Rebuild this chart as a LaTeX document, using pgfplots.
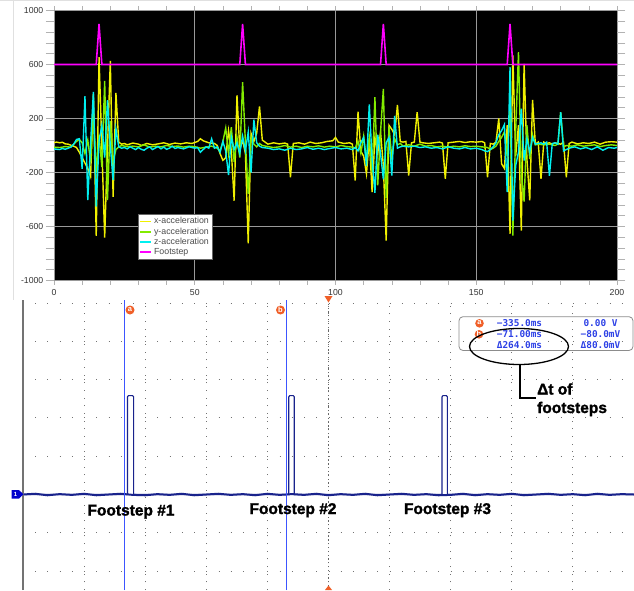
\documentclass[border=0pt]{standalone}
\usepackage{pgfplots}
\pgfplotsset{compat=1.18}
\usepackage{fontspec}
\setmainfont{Liberation Sans}
\newfontfamily\monofont{DejaVu Sans Mono}
\newfontfamily\heavyfont{Liberation Sans}[BoldFeatures={FakeBold=1.6}]
\definecolor{xacc}{RGB}{240,240,0}
\definecolor{yacc}{RGB}{130,235,0}
\definecolor{zacc}{RGB}{0,240,240}
\definecolor{foot}{RGB}{255,0,255}
\definecolor{scopetrace}{RGB}{25,35,140}
\definecolor{cursorblue}{RGB}{60,85,255}
\definecolor{readout}{RGB}{45,65,230}
\definecolor{markorange}{RGB}{240,95,40}
\begin{document}
\begin{tikzpicture}[x=1pt,y=1pt]
\useasboundingbox (0,0) rectangle (634,590);
\fill[white] (0,0) rectangle (634,590);
\begin{scope}
\clip (0,0) rectangle (634,590);
% top panel frame lines
\draw[black!12, line width=0.8pt] (13,590) -- (13,290);
\draw[black!12, line width=0.8pt] (0,589.6) -- (634,589.6);
\begin{axis}[
  at={(54pt,309.5pt)}, anchor=south west, scale only axis,
  width=563pt, height=270pt,
  xmin=0, xmax=200, ymin=-1000, ymax=1000,
  axis background/.style={fill=black},
  axis line style={draw=none},
  xtick={0,50,100,150,200}, ytick={-1000,-600,-200,200,600,1000},
  minor x tick num=4, minor y tick num=4,
  grid=major, major grid style={black!40!white, line width=0.8pt},
  tick align=outside,
  tick style={black!30, line width=0.6pt},
  xtick style={/pgfplots/major tick length=4pt,/pgfplots/minor tick length=4pt},
  ytick style={/pgfplots/major tick length=8pt,/pgfplots/minor tick length=8pt},
  /pgf/number format/.cd, 1000 sep={}, assume math mode=true, /pgfplots/.cd,
  ticklabel style={font=\fontsize{8.7}{10}\selectfont, text=black!80},
  yticklabel style={inner sep=1.2pt, xshift=-5pt},
  xticklabel style={inner sep=1.5pt, yshift=-3pt},
  legend style={at={(0.149,0.246)}, anchor=north west, fill=white, draw=black!60,
     font=\fontsize{8.8}{9}\selectfont, text=black!70, inner sep=1.2pt, row sep=-1.6pt,
     cells={anchor=west}},
  legend image code/.code={\draw[#1, line width=1.8pt] (0pt,0pt) -- (11pt,0pt);},
]
\addplot[xacc, line width=1.4pt] coordinates {
(0,22)(1,25)(2,20)(3,24)(4,12)(5,10)(6,2)(7,-5)(8,-15)(9,-50)(10,-90)(11,-130)(12,-170)(13,-230)(14,380)(15,-670)(16,655)(17,-10)(18,-682)(19,-20)(20,626)(21,-380)(22,389)(23,25)(24,10)(25,15)(26,5)(28,18)(30,10)(31,0)(33,15)(35,5)(37,12)(39,20)(41,8)(43,18)(45,12)(47,20)(49,15)(51,30)(52,50)(53,35)(55,20)(57,15)(58,0)(59,-60)(60,-110)(61,-90)(62,110)(63,-40)(64,-409)(65,372)(66,-30)(67,40)(68,-60)(69,-724)(70,90)(71,30)(72,90)(73,290)(74,40)(75,25)(76,10)(78,20)(80,12)(82,18)(83,10)(84,-235)(85,15)(87,20)(89,10)(91,25)(93,15)(95,20)(97,30)(99,35)(100,60)(101,25)(103,15)(105,20)(106,10)(107,-259)(108,250)(109,-40)(110,-80)(111,-210)(112,50)(113,-345)(114,60)(115,-60)(116,100)(117,-150)(118,-704)(119,150)(120,120)(121,80)(122,300)(123,30)(124,25)(125,30)(126,-222)(127,20)(128,25)(129,247)(130,25)(131,20)(133,15)(135,20)(137,25)(138,18)(139,-247)(140,20)(142,25)(144,30)(146,22)(148,28)(150,25)(152,30)(153,20)(154,-235)(155,15)(156,10)(157,25)(158,200)(159,-136)(160,-170)(161,150)(162,-654)(163,667)(164,-80)(165,150)(166,-630)(167,605)(168,-100)(169,-407)(170,338)(171,10)(172,25)(173,-247)(174,25)(175,15)(176,20)(177,10)(178,20)(179,15)(180,10)(181,25)(182,-235)(183,15)(184,25)(186,12)(188,20)(190,15)(192,25)(194,10)(196,25)(198,28)(200,25)
};
\addlegendentry{x-acceleration}
\addplot[yacc, line width=1.4pt] coordinates {
(0,-12)(2,-15)(4,-8)(6,-12)(7,10)(8,30)(9,45)(10,20)(11,-60)(12,40)(13,-120)(14,260)(15,-200)(16,80)(17,-160)(18,478)(19,-404)(20,180)(21,-120)(22,-30)(23,-10)(24,0)(26,-8)(28,-5)(30,-10)(32,5)(34,-12)(36,-5)(38,-10)(40,0)(42,-8)(44,-4)(46,-12)(48,-5)(50,-8)(52,-20)(54,-12)(56,-5)(58,-20)(59,-40)(60,30)(61,130)(62,-60)(63,136)(64,-120)(65,60)(66,-90)(67,470)(68,20)(69,-358)(70,60)(71,10)(72,-10)(73,15)(74,0)(76,-8)(78,-15)(80,-10)(82,0)(84,-12)(86,-5)(88,-15)(90,-5)(92,-10)(94,-2)(96,-12)(98,-5)(100,-10)(102,0)(104,-8)(106,-12)(107,-20)(108,30)(109,-60)(110,70)(111,-110)(112,60)(113,-200)(114,358)(115,-296)(116,100)(117,420)(118,-388)(119,140)(120,-90)(121,50)(122,5)(123,15)(124,-5)(126,5)(128,-5)(130,10)(132,-5)(134,0)(136,-10)(138,-5)(140,-12)(142,-5)(144,-10)(146,-2)(148,-8)(150,-5)(152,-10)(154,-15)(155,-30)(156,-20)(157,-5)(158,30)(159,60)(160,100)(161,-80)(162,300)(163,-667)(164,100)(165,691)(166,-200)(167,-416)(168,150)(169,-100)(170,80)(171,5)(172,10)(174,5)(176,10)(178,0)(179,10)(180,247)(181,-10)(182,0)(184,-5)(186,5)(188,-5)(190,0)(192,5)(194,-8)(196,0)(198,5)(200,0)
};
\addlegendentry{y-acceleration}
\addplot[zacc, line width=1.4pt] coordinates {
(0,-25)(1,-28)(2,-30)(3,-22)(4,-28)(5,-20)(6,-12)(7,10)(8,45)(9,50)(10,-172)(11,365)(12,-404)(13,20)(14,397)(15,-453)(16,30)(17,150)(18,-90)(19,335)(20,0)(21,-256)(22,124)(23,-10)(24,-20)(25,-15)(26,-25)(27,-10)(28,-20)(29,-30)(30,-15)(31,-28)(32,-35)(33,-20)(34,-10)(35,-30)(36,-18)(37,-8)(38,-25)(39,-12)(40,-28)(41,-20)(42,-5)(43,-22)(44,-15)(46,-25)(48,-10)(50,-20)(51,-15)(52,-50)(53,-30)(54,-10)(55,-20)(56,50)(57,-20)(58,-10)(59,-50)(60,30)(61,-40)(62,-219)(63,64)(64,-30)(65,20)(66,-60)(67,70)(68,-40)(69,100)(70,-200)(71,192)(72,20)(73,-5)(74,-15)(76,-20)(78,-30)(80,-25)(82,-35)(84,-20)(86,-30)(88,-25)(90,-15)(92,-28)(94,-20)(96,-30)(98,-22)(100,-15)(102,-25)(104,-20)(106,-30)(107,-15)(108,-40)(109,20)(110,60)(111,-150)(112,305)(113,-100)(114,-350)(115,80)(116,-60)(117,-250)(118,20)(119,60)(120,-222)(121,220)(122,-20)(123,-10)(124,-5)(126,-10)(128,-5)(130,-15)(132,-10)(134,-20)(136,-15)(138,-25)(140,-10)(142,-20)(144,-25)(146,-15)(148,-25)(150,-20)(152,-30)(153,-40)(154,-45)(155,-30)(156,-10)(157,20)(158,80)(159,110)(160,155)(161,-345)(162,580)(163,-556)(164,-150)(165,-50)(166,272)(167,-111)(168,50)(169,-50)(170,60)(171,10)(172,15)(173,20)(174,10)(175,25)(176,-224)(177,15)(178,20)(179,10)(180,247)(181,-40)(182,-30)(183,-20)(185,-10)(187,-25)(189,-15)(191,-30)(193,-10)(195,-35)(197,-15)(199,-20)(200,-15)
};
\addlegendentry{z-acceleration}
\addplot[foot, line width=1.6pt] coordinates {
(0,600)(15,600)(16,900)(17,600)(66,600)(67,900)(68,600)(116,600)(117,900)(118,600)(161,600)(162,900)(163,600)(200,600)
};
\addlegendentry{Footstep}
\end{axis}
% ---------------- oscilloscope ----------------
\begin{axis}[
  at={(23pt,0pt)}, anchor=south west, scale only axis,
  width=611pt, height=290pt,
  xmin=-500, xmax=500, ymin=-3.493, ymax=4.078,
  axis line style={draw=none},
  xtick={-400,-300,-200,-100,0,100,200,300,400}, ytick={-3,-2,-1,0,1,2,3,4},
  xticklabels={}, yticklabels={},
  tick style={draw=none},
  xmajorgrids, ymajorgrids,
  x grid style={black!55, line width=0.9pt, dash pattern=on 0.9pt off 6.76pt},
  y grid style={black!55, line width=0.9pt, dash pattern=on 0.9pt off 11.32pt},
  clip=false,
]
\draw[black!60, line width=0.9pt, dash pattern=on 1.2pt off 2.6pt] (axis cs:0,-3.493) -- (axis cs:0,4.078);
\addplot[scopetrace, line width=2pt] coordinates {
(-500,-1.00)(-480,-0.98)(-460,-1.02)(-440,-0.99)(-420,-1.01)(-400,-0.98)(-380,-1.02)(-360,-1.00)(-340,-0.98)(-320,-1.01)(-300,-1.02)(-280,-0.99)(-260,-1.01)(-240,-0.98)(-220,-1.02)(-200,-1.00)(-180,-0.98)(-160,-1.01)(-140,-0.99)(-120,-1.02)(-100,-0.98)(-80,-1.01)(-60,-0.99)(-40,-1.01)(-20,-0.98)(0,-1.02)(20,-0.99)(40,-1.01)(60,-0.98)(80,-1.02)(100,-1.00)(120,-0.98)(140,-1.01)(160,-0.99)(180,-1.02)(200,-1.01)(220,-0.98)(240,-1.02)(260,-0.99)(280,-1.01)(300,-0.98)(320,-1.02)(340,-1.00)(360,-0.98)(380,-1.01)(400,-0.99)(420,-1.02)(440,-0.98)(460,-1.01)(480,-0.99)(500,-1.00)
};
\addplot[scopetrace, line width=1.1pt] coordinates {
(-500,-1)(-329,-1)(-329,1.55)(-327.5,1.58)(-320.5,1.58)(-319,1.55)(-319,-1)(-65,-1)(-65,1.55)(-63.5,1.58)(-57.5,1.58)(-56,1.55)(-56,-1)(185.8,-1)(185.8,1.55)(187.3,1.58)(193.1,1.58)(194.6,1.55)(194.6,-1)(500,-1)
};
\end{axis}
% cursor lines
\draw[draw=cursorblue, line width=1pt] (124.2,0) -- (124.2,290);
\draw[draw=cursorblue, line width=1pt] (286,0) -- (286,290);
% left border of scope
\draw[black!55, line width=1.4pt] (23,0) -- (23,290);
% channel marker
\fill[blue!80!black] (11.5,91.5) -- (19,91.5) -- (23.5,95.7) -- (19,99.9) -- (11.5,99.9) -- cycle;
\node[text=white, font=\bfseries\fontsize{6}{6}\selectfont, inner sep=0pt] at (15.5,95.7) {1};
% orange triangles on centre line
\fill[markorange] (324.5,294) -- (332.5,294) -- (328.5,287.5) -- cycle;
\fill[markorange] (325,0) -- (332,0) -- (328.5,4.5) -- cycle;
% cursor markers
\fill[markorange] (130,280) circle (4.5);
\node[text=white, font=\bfseries\fontsize{7.5}{7.5}\selectfont, inner sep=0pt] at (130,280.3) {a};
\fill[markorange] (280.5,280) circle (4.5);
\node[text=white, font=\bfseries\fontsize{7.5}{7.5}\selectfont, inner sep=0pt] at (280.5,280.3) {b};
% readout box
\draw[black!45, line width=0.8pt, rounded corners=4pt] (459,239.5) rectangle (633,273.3);
\fill[markorange] (479.5,266.7) circle (4.3);
\node[text=white, font=\bfseries\fontsize{7.5}{7.5}\selectfont, inner sep=0pt] at (479.5,267) {a};
\fill[markorange] (479,255.7) circle (4.3);
\node[text=white, font=\bfseries\fontsize{7.5}{7.5}\selectfont, inner sep=0pt] at (479,256) {b};
\begin{scope}[every node/.style={text=readout, font=\monofont\bfseries\fontsize{9.4}{10}\selectfont, inner sep=0pt}]
\node at (519.5,266.7) {−335.0ms};
\node at (519.5,255.7) {−71.00ms};
\node at (519.5,245.2) {Δ264.0ms};
\node at (600.5,266.7) {0.00 V};
\node at (600.5,255.7) {−80.0mV};
\node at (600.5,245.2) {Δ80.0mV};
\end{scope}
% ellipse and connector
\draw[black, line width=1.3pt] (519,243.5) ellipse [x radius=49.5, y radius=18];
\draw[black, line width=1.8pt] (520,225.5) -- (520,192) -- (536,192);
\begin{scope}[every node/.style={font=\heavyfont\bfseries\fontsize{15.5}{19}\selectfont, inner sep=0pt}]
\node[anchor=base west] at (537,195.5) {Δt of};
\node[anchor=base west] at (537,177) {footsteps};
% footstep labels
\node[anchor=base] at (131,74.5) {Footstep \#1};
\node[anchor=base] at (293,76) {Footstep \#2};
\node[anchor=base] at (447.5,76) {Footstep \#3};
\end{scope}
\end{scope}
\end{tikzpicture}
\end{document}
